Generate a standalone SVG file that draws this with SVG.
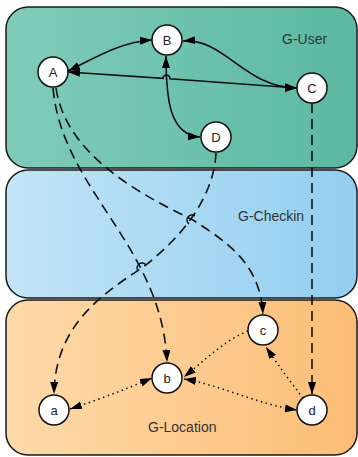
<svg xmlns="http://www.w3.org/2000/svg" width="358" height="457" viewBox="0 0 358 457">
<defs>
<linearGradient id="gUser" x1="0" y1="0" x2="1" y2="0"><stop offset="0" stop-color="#80ccba"/><stop offset="1" stop-color="#5bb8a2"/></linearGradient>
<linearGradient id="gCheck" x1="0" y1="0" x2="1" y2="0"><stop offset="0" stop-color="#c2e4f6"/><stop offset="1" stop-color="#93cef0"/></linearGradient>
<linearGradient id="gLoc" x1="0" y1="0" x2="1" y2="0"><stop offset="0" stop-color="#fddaaa"/><stop offset="1" stop-color="#fbbd76"/></linearGradient>
<marker id="ah" markerUnits="userSpaceOnUse" markerWidth="13" markerHeight="9" refX="12" refY="4" orient="auto-start-reverse" viewBox="0 0 13 8"><path d="M0,0 L12,4 L0,8 z" fill="#000"/></marker>
<style>
.panel{stroke:#1a1a1a;stroke-width:1.5}
.plabel{font-family:"Liberation Sans",Arial,sans-serif;font-size:14px;fill:#333}
.node circle{fill:#fff;stroke:#111;stroke-width:1.5}
.node text{font-family:"Liberation Sans",Arial,sans-serif;font-size:13px;fill:#222;text-anchor:middle}
.solid{fill:none;stroke:#111;stroke-width:1.6}
.dash{fill:none;stroke:#111;stroke-width:1.6;stroke-dasharray:10 6}
.dot{fill:none;stroke:#111;stroke-width:1.5;stroke-dasharray:1.5 3.5}
.hop{fill:none;stroke:#111;stroke-width:1.4}
</style>
</defs>
<g id="panels">
<g id="G-User"><rect class="panel" x="6" y="7" width="351" height="161" rx="22" fill="url(#gUser)"/><text class="plabel" x="282" y="44">G-User</text></g>
<g id="G-Checkin"><rect class="panel" x="6" y="170" width="351" height="128" rx="22" fill="url(#gCheck)"/><text class="plabel" x="238" y="221">G-Checkin</text></g>
<g id="G-Location"><rect class="panel" x="6" y="300" width="351" height="155" rx="22" fill="url(#gLoc)"/><text class="plabel" x="148" y="432">G-Location</text></g>
</g>
<g id="connectors">
<path class="solid" d="M68,71 C95,58 120,42 152,40" marker-start="url(#ah)" marker-end="url(#ah)"/>
<path class="solid" d="M183,41 C225,38 245,88 297,88" marker-start="url(#ah)" marker-end="url(#ah)"/>
<path class="solid" d="M68,72 L163,78.3 A3.2,3.2 0 0 1 170,78.8 L297,88" marker-start="url(#ah)" marker-end="url(#ah)"/>
<path class="solid" d="M166,56 C166,100 170,135 200,137" marker-start="url(#ah)" marker-end="url(#ah)"/>
<path class="dash" d="M53,88 C62,190 162,245 167,362" marker-end="url(#ah)"/>
<path class="dash" d="M56,88 C65,150 130,190 193,220 C225,241 260,262 263,314" marker-end="url(#ah)"/>
<path class="dash" d="M216,153 C214,195 185,235 142,268 C95,298 55,330 54,394" marker-end="url(#ah)"/>
<path class="dash" d="M312,103 L312,394" marker-end="url(#ah)"/>
<path class="hop" d="M189,224 A3.5,3.5 0 0 1 195,216"/>
<path class="hop" d="M138,271 A3.5,3.5 0 0 1 146,265"/>
<path class="dot" d="M70,409 Q110,396 152,378" marker-start="url(#ah)" marker-end="url(#ah)"/>
<path class="dot" d="M184,379 C220,385 260,405 297,410" marker-start="url(#ah)" marker-end="url(#ah)"/>
<path class="dot" d="M248,331 C225,340 205,360 184,377" marker-end="url(#ah)"/>
<path class="dot" d="M303,398 Q285,375 266,347" marker-end="url(#ah)"/>
</g>
<g id="A" class="node"><circle cx="53" cy="72" r="15"/><text x="53" y="77">A</text></g>
<g id="B" class="node"><circle cx="167" cy="40" r="15"/><text x="167" y="45">B</text></g>
<g id="C" class="node"><circle cx="312" cy="88" r="15"/><text x="312" y="93">C</text></g>
<g id="D" class="node"><circle cx="216" cy="137" r="15"/><text x="216" y="142">D</text></g>
<g id="c" class="node"><circle cx="263" cy="330" r="15"/><text x="263" y="335">c</text></g>
<g id="b" class="node"><circle cx="167" cy="378" r="15"/><text x="167" y="383">b</text></g>
<g id="a" class="node"><circle cx="54" cy="410" r="15"/><text x="54" y="415">a</text></g>
<g id="d" class="node"><circle cx="312" cy="410" r="15"/><text x="312" y="415">d</text></g>
</svg>
